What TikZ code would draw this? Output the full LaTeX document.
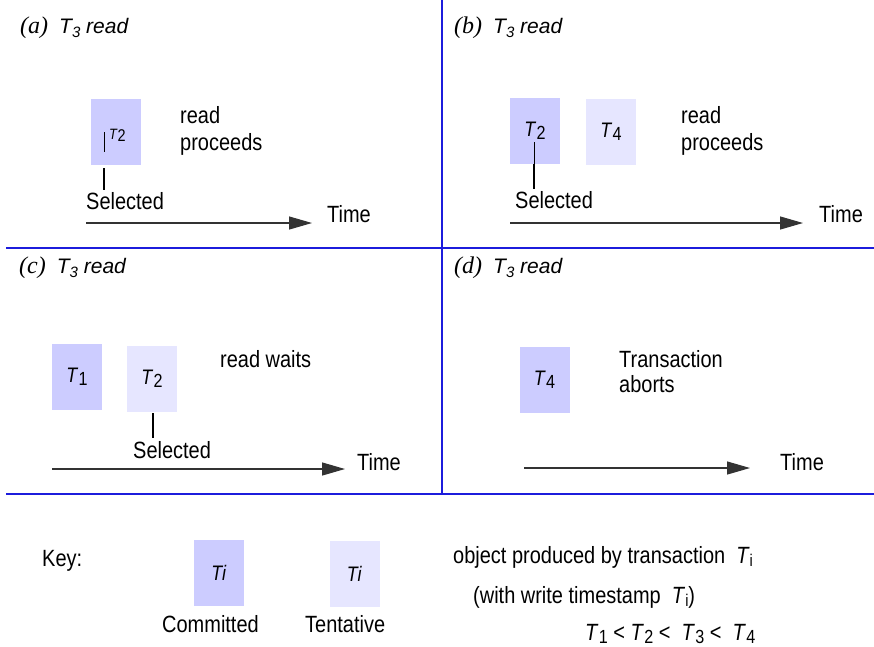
\documentclass[tikz,border=0pt]{standalone}
\usepackage{fontspec}
\setmainfont{Liberation Sans}[FakeStretch=0.85]
\newfontfamily\tms{Liberation Serif}
\newfontfamily\ttlsans{Liberation Sans}
\usetikzlibrary{arrows.meta}
\definecolor{commitc}{RGB}{204,204,255}
\definecolor{tentc}{RGB}{230,230,255}
\definecolor{rulec}{RGB}{28,28,220}
\newcommand\Tsb[1]{\textit{T}\kern0.3pt\raisebox{-3pt}{\fontsize{19}{19}\selectfont #1}}
\newcommand\Ttl[1]{{\fontsize{24}{24}\selectfont\tms\itshape (#1)}\hspace{11pt}{\ttlsans\itshape T\raisebox{-4pt}{\fontsize{15}{15}\selectfont 3}\ read}}
\begin{document}
\begin{tikzpicture}[x=1pt,y=-1pt,
  lbl/.style={anchor=base west,inner sep=0pt,font=\fontsize{23.5}{27}\selectfont},
  ttlnode/.style={anchor=base west,inner sep=0pt,font=\fontsize{21}{22}\selectfont},
  cbox/.style={fill=commitc,minimum width=50pt,minimum height=66pt,inner sep=0pt,font=\fontsize{21}{25}\selectfont},
  tbox/.style={cbox,fill=tentc},
  rule/.style={draw=rulec,line width=1.3pt},
  tick/.style={line width=2.4pt},
  thintick/.style={line width=0.9pt},
  timearrow/.style={line width=1.2pt,draw=black!80,-{Triangle[length=23pt,width=13pt]}}]
\useasboundingbox (0,0) rectangle (874,646);
\fill[white] (0,0) rectangle (874,646);
% rules
\coordinate (r1a) at (6,248); \coordinate (r1b) at (874,248);
\coordinate (r2a) at (6,494); \coordinate (r2b) at (874,494);
\coordinate (vt) at (442,0); \coordinate (vb) at (442,494);
\draw[rule] (r1a) -- (r1b);
\draw[rule] (r2a) -- (r2b);
\draw[rule] (vt) -- (vb);

% ---------- (a)
\node[ttlnode] (ta) at (20,33) {\Ttl{a}};
\node[cbox] (a2) at (116,132) {};
\node[anchor=base west,inner sep=0pt,font=\fontsize{15}{15}\selectfont] (a2t) at (109,139) {\textit{T}\raisebox{-2.5pt}{\fontsize{17}{17}\selectfont 2}};
\coordinate (a2k) at (104,132);
\coordinate (a2k2) at (104,152);
\draw[thintick] (a2k) -- (a2k2);
\node[lbl] (ar1) at (180,123) {read};
\node[lbl] (ar2) at (180,150) {proceeds};
\node[lbl] (asel) at (86,209) {Selected};
\draw[tick,shorten <=3pt,shorten >=2pt] (a2.south -| a2k) -- (asel.north -| a2k);
\coordinate (a0) at (86,223);
\node[lbl] (atime) at (327,222) {Time};
\draw[timearrow,shorten >=15pt] (a0) -- (a0 -| atime.west);

% ---------- (b)
\node[ttlnode] (tb) at (454,33) {\Ttl{b}};
\node[cbox] (b2) at (535,131) {\Tsb{2}};
\node[tbox] (b4) at (611,132) {\Tsb{4}};
\coordinate (b2k) at (534,142);
\draw[thintick] (b2k) -- (b2.south -| b2k);
\node[lbl] (br1) at (681,123) {read};
\node[lbl] (br2) at (681,150) {proceeds};
\node[lbl] (bsel) at (515,208) {Selected};
\draw[tick,shorten >=2pt] (b2.south -| b2k) -- (bsel.north -| b2k);
\coordinate (b0) at (510,223);
\node[lbl] (btime) at (819,222) {Time};
\draw[timearrow,shorten >=16pt] (b0) -- (b0 -| btime.west);

% ---------- (c)
\node[ttlnode] (tc) at (19,273) {\Ttl{c}};
\node[cbox] (c1) at (77,376.5) {\Tsb{1}};
\node[tbox] (c2) at (152,378.5) {\Tsb{2}};
\coordinate (c2k) at (153,412);
\node[lbl] (csel) at (133,458) {Selected};
\draw[tick,shorten <=1pt,shorten >=3pt] (c2k) -- (csel.north -| c2k);
\node[lbl] (cr) at (220,367) {read waits};
\coordinate (c0) at (52,469);
\node[lbl] (ctime) at (357,470) {Time};
\draw[timearrow,shorten >=12pt] (c0) -- (c0 -| ctime.west);

% ---------- (d)
\node[ttlnode] (td) at (454,273) {\Ttl{d}};
\node[cbox] (d4) at (544.5,380) {\Tsb{4}};
\node[lbl] (dr1) at (619,367) {Transaction};
\node[lbl] (dr2) at (619,392) {aborts};
\coordinate (d0) at (524,468);
\node[lbl] (dtime) at (780,470) {Time};
\draw[timearrow,shorten >=30pt] (d0) -- (d0 -| dtime.west);

% ---------- key
\node[lbl] (key) at (42,566) {Key:};
\node[cbox] (kc) at (219,573) {\textit{Ti}};
\node[tbox] (kt) at (354.5,574) {\textit{Ti}};
\node[lbl] (kcl) at (162,632) {Committed};
\node[lbl] (ktl) at (305,632) {Tentative};
\node[lbl] (k1) at (453,563) {object produced by transaction \ \textit{T}\raisebox{-3pt}{\fontsize{17}{17}\selectfont i}};
\node[lbl] (k2) at (473,603) {(with write timestamp \ \textit{T}\raisebox{-3pt}{\fontsize{17}{17}\selectfont i})};
\node[lbl] (k3) at (585,640) {\Tsb{1} < \Tsb{2} < \ \Tsb{3} < \ \Tsb{4}};
\end{tikzpicture}
\end{document}
